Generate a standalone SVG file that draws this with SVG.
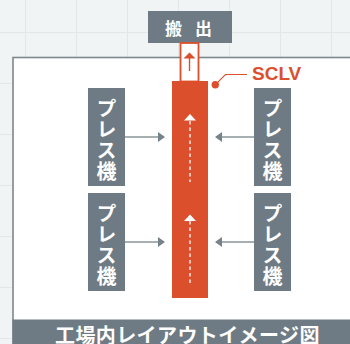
<svg xmlns="http://www.w3.org/2000/svg" width="350" height="344" viewBox="0 0 350 344">
<defs>
<style>
.grid{stroke:#e2e7e9;stroke-width:1;fill:none}
.box{fill:#6e7b84}
.jp{font-family:"Noto Sans CJK JP","Noto Sans",sans-serif;font-weight:bold;fill:#ffffff}
.press{font-size:20px;writing-mode:vertical-rl;letter-spacing:1px}
.conn{stroke:#8a959b;stroke-width:1.5;fill:none}
.head{fill:#77838b}
.dash{stroke:#ffffff;stroke-width:1.3;stroke-dasharray:3.5 3;fill:none}
.orange{fill:#dc4f2c}
</style>
</defs>
<rect x="0" y="0" width="350" height="344" fill="#f1f4f5"/>
<g id="grid">
<path class="grid" d="M25.5 0V344M76.5 0V344M127.5 0V344M178.5 0V344M229.5 0V344M280.5 0V344M331.5 0V344M0 32.5H350M0 83.5H350M0 134.5H350M0 185.5H350M0 236.5H350M0 287.5H350M0 338.5H350"/>
</g>
<g id="frame">
<rect x="13" y="57.5" width="350" height="300" fill="#ffffff" stroke="#7d878c" stroke-width="1.6"/>
</g>
<g id="footer">
<rect x="12.5" y="319.5" width="350" height="30" class="box"/>
<text x="55" y="342.5" class="jp" font-size="20" letter-spacing="0.4">工場内レイアウトイメージ図</text>
</g>
<g id="hanshutsu">
<rect x="148" y="11" width="84" height="32" class="box"/>
<text x="165" y="34.5" class="jp" font-size="17" letter-spacing="13">搬出</text>
</g>
<g id="outlet">
<rect x="180.5" y="43" width="18" height="38.5" fill="#ffffff" stroke="#dc4f2c" stroke-width="1.8"/>
</g>
<g id="sclv">
<rect x="172" y="81" width="36" height="217" class="orange"/>
<circle cx="215.3" cy="84.7" r="3.7" class="orange"/>
<text x="252" y="80" font-family="Liberation Sans,Arial,sans-serif" font-weight="bold" font-size="19" fill="#dc4f2c">SCLV</text>
</g>
<g id="press-left-top">
<rect x="88" y="88" width="37" height="98" class="box"/>
<text x="106.5" y="98.5" class="jp press">プレス機</text>
</g>
<g id="press-left-bottom">
<rect x="88" y="193" width="37" height="98" class="box"/>
<text x="106.5" y="203.5" class="jp press">プレス機</text>
</g>
<g id="press-right-top">
<rect x="254" y="88" width="37" height="98" class="box"/>
<text x="272.5" y="98.5" class="jp press">プレス機</text>
</g>
<g id="press-right-bottom">
<rect x="254" y="193" width="37" height="98" class="box"/>
<text x="272.5" y="203.5" class="jp press">プレス機</text>
</g>
<g id="connectors">
<path class="conn" d="M125 137H159M254 137H221M125 242H159M254 242H221"/>
<path class="head" d="M158 132L165 137L158 142ZM222 132L215 137L222 142ZM158 237L165 242L158 247ZM222 237L215 242L222 247Z"/>
<path class="dash" d="M190 121V182M190 221V283"/>
<path fill="#ffffff" d="M184 120.5L190 114L196 120.5ZM184 221L190 214.5L196 221Z"/>
<path stroke="#dc4f2c" stroke-width="1.4" fill="none" d="M189.5 58V71"/>
<path fill="#dc4f2c" d="M183.5 58.5L189.5 52.5L195.5 58.5Z"/>
<path stroke="#dc4f2c" stroke-width="1.1" fill="none" d="M215.3 84.7L225.5 74.5H247"/>
</g>
</svg>
